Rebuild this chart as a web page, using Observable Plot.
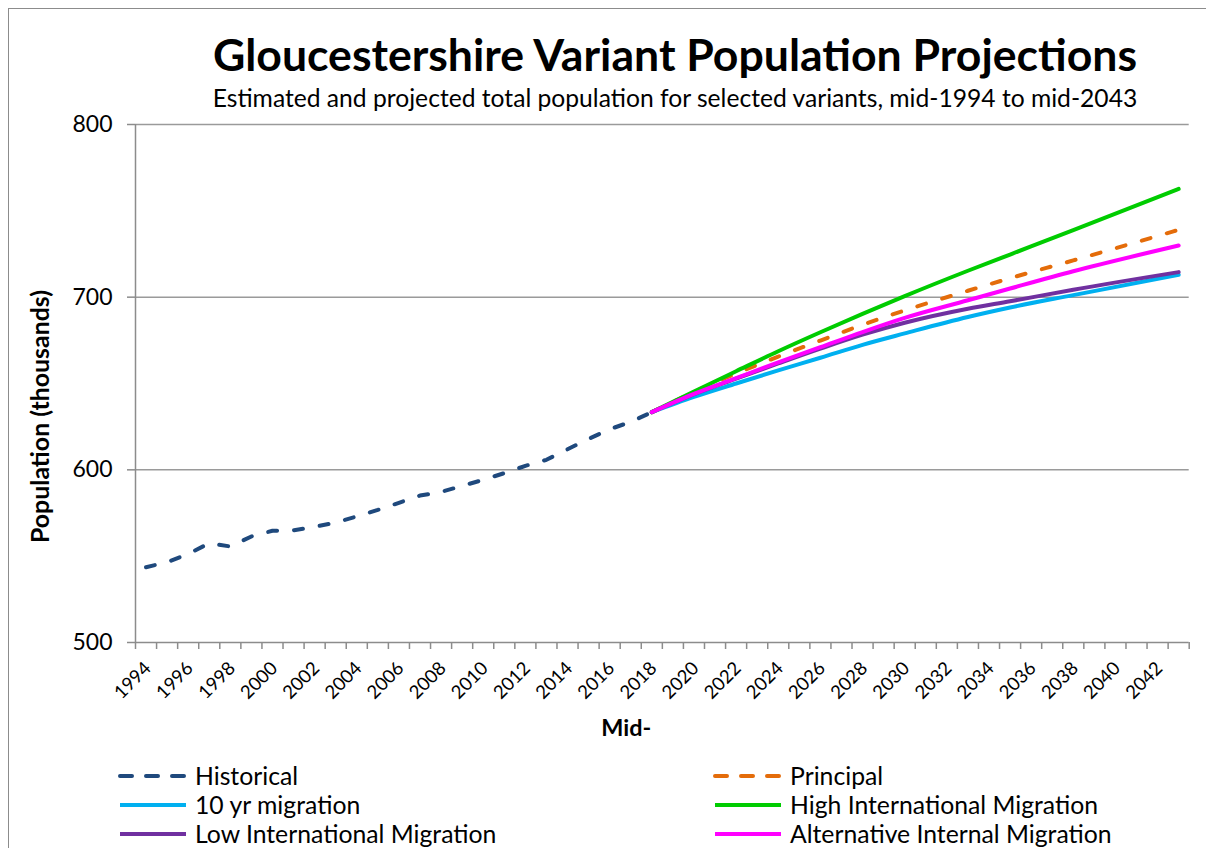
<!DOCTYPE html>
<html>
<head>
<meta charset="utf-8">
<script src="https://cdn.jsdelivr.net/npm/d3@7"></script>
<script src="https://cdn.jsdelivr.net/npm/@observablehq/plot@0.6"></script>
<style>
  html, body { margin: 0; padding: 0; background: #ffffff; }
  #wrap { position: relative; width: 1206px; height: 848px; overflow: hidden; background: #fff; }
  #frame { position: absolute; left: 8px; top: 8px; width: 1400px; height: 1000px;
           border-left: 1.5px solid #8c8c8c; border-top: 1.5px solid #8c8c8c; }
  #wrap svg { display: block; position: relative; overflow: visible; }
</style>
</head>
<body>
<div id="wrap">
  <div id="frame"></div>
  <div id="head"></div>
  <div id="chart"></div>
  <div id="legend"></div>
</div>
<script>
// ---------- data ----------
const titleText = "Gloucestershire Variant Population Projections";
const subtitleText = "Estimated and projected total population for selected variants, mid-1994 to mid-2043";
const yTitleText = "Population (thousands)";
const xTitleText = "Mid-";

const histYears = [1994,1995,1996,1997,1998,1999,2000,2001,2002,2003,2004,2005,2006,2007,2008,2009,2010,2011,2012,2013,2014,2015,2016,2017,2018];
const histValues = [543.6,546.5,551.3,557.5,555.6,561.4,564.7,565.0,567.0,569.5,573.0,576.8,580.9,585.1,587.2,590.7,594.2,598.1,602.3,605.8,611.9,617.9,623.5,627.8,633.4];

const projYears   = [2018,2020,2022,2024,2026,2028,2030,2033,2035,2038,2043];
const principal   = [633.4,645.0,655.8,665.6,674.9,684.0,692.3,703.7,711.0,721.3,739.0];
const tenYear     = [633.4,642.2,650.0,657.6,664.9,672.4,679.0,688.5,694.0,701.2,713.0];
const highIntl    = [633.4,645.4,657.1,668.7,679.7,690.3,700.6,715.3,724.7,738.8,762.7];
const lowIntl     = [633.4,643.8,652.8,661.6,670.2,678.3,685.2,693.3,697.6,704.3,714.5];
const altInternal = [633.4,644.0,653.1,662.2,671.0,679.8,688.0,698.2,705.0,715.0,729.9];

const seriesNames  = ["Historical","Principal","10 yr migration","High International Migration","Low International Migration","Alternative Internal Migration"];
const seriesColors = ["#1F497D","#E46C0A","#00B0F0","#00CC00","#7030A0","#FF00FF"];
const seriesDashed = [true,true,false,false,false,false];

const yTicks = [500,600,700,800];
const yGrid = [600,700,800];
const xTickLabels = [1994,1996,1998,2000,2002,2004,2006,2008,2010,2012,2014,2016,2018,2020,2022,2024,2026,2028,2030,2032,2034,2036,2038,2040,2042];
const xDomain = [1993.5, 2043.5];

// ---------- helpers ----------
const FONT = "Lato, 'Open Sans', sans-serif";
const cvs = document.createElement("canvas").getContext("2d");
function fit(text, weight, target) {
  cvs.font = `${weight} 100px Lato`;
  return 100 * target / cvs.measureText(text).width;
}
const fsTitle = fit(titleText, "bold", 926);
const fsSub = fit(subtitleText, "normal", 926);
const fsY = fit("800", "normal", 40);
const fsX = fit("1994", "normal", 43);
const fsYTitle = fit(yTitleText, "bold", 253);
const fsXTitle = fit(xTitleText, "bold", 50);
const fsLeg = fit("Low International Migration", "normal", 302);

// ---------- tables ----------
const histData = histYears.map((year, i) => ({year, value: histValues[i], series: seriesNames[0]}));
const projArrays = [principal, tenYear, highIntl, lowIntl, altInternal];
const projData = projArrays.map((arr, k) => projYears.map((year, i) => ({year, value: arr[i], series: seriesNames[k + 1]})));
const boundaries = d3.range(xDomain[0], xDomain[1] + 0.01, 1);

// ---------- header ----------
const NS = "http://www.w3.org/2000/svg";
const head = d3.select("#head").append("svg").attr("xmlns", NS)
  .attr("width", 1206).attr("height", 114).style("font-family", FONT);
head.append("text").attr("x", 675).attr("y", 71).attr("text-anchor", "middle")
  .attr("font-weight", "bold").attr("font-size", fsTitle).attr("fill", "#000").text(titleText);
head.append("text").attr("x", 675).attr("y", 107).attr("text-anchor", "middle")
  .attr("font-size", fsSub).attr("fill", "#000").text(subtitleText);

// ---------- chart ----------
const lineMarks = [
  Plot.line(histData, {x: "year", y: "value", stroke: seriesColors[0], strokeWidth: 4,
    strokeDasharray: "9,17", strokeLinecap: "round", strokeLinejoin: "round"})
];
projData.forEach((d, k) => {
  lineMarks.push(Plot.line(d, {x: "year", y: "value", curve: "monotone-x",
    stroke: seriesColors[k + 1], strokeWidth: 4,
    strokeDasharray: seriesDashed[k + 1] ? "9,17" : null,
    strokeLinecap: "round", strokeLinejoin: "round"}));
});

const chart = Plot.plot({
  width: 1206, height: 646,
  marginTop: 10, marginLeft: 135, marginRight: 17.3, marginBottom: 118,
  style: {fontFamily: FONT, background: "transparent", overflow: "visible", color: "#000"},
  x: {domain: xDomain},
  y: {domain: [500, 800]},
  marks: [
    Plot.ruleY(yGrid, {stroke: "#9a9a9a", strokeWidth: 1.5}),
    Plot.axisY({ticks: yTicks, tickSize: 8, tickPadding: 15, fontSize: fsY,
      tickFormat: d => String(d), stroke: "#8c8c8c", strokeWidth: 1.5, label: null}),
    Plot.axisX({ticks: boundaries, tickSize: 7, tickFormat: () => "",
      stroke: "#8c8c8c", strokeWidth: 1.5, label: null}),
    Plot.ruleY([500], {stroke: "#8c8c8c", strokeWidth: 1.5}),
    Plot.ruleX([xDomain[0]], {stroke: "#8c8c8c", strokeWidth: 1.5}),
    Plot.text(xTickLabels, {x: d => d, text: d => String(d), frameAnchor: "bottom",
      rotate: -45, textAnchor: "end", dx: 6, dy: 27, fontSize: fsX, fill: "#000"}),
    Plot.text([yTitleText], {frameAnchor: "left", textAnchor: "middle", rotate: -90,
      dx: -94.5, dy: 33, fontSize: fsYTitle, fontWeight: "bold", fill: "#000"}),
    Plot.text([xTitleText], {frameAnchor: "bottom", textAnchor: "middle",
      dx: -36, dy: 93, fontSize: fsXTitle, fontWeight: "bold", fill: "#000"}),
    ...lineMarks
  ]
});
document.getElementById("chart").appendChild(chart);

// ---------- legend ----------
const leg = d3.select("#legend").append("svg").attr("xmlns", NS)
  .attr("width", 1206).attr("height", 88).style("font-family", FONT);
const legPos = [[118, 16], [713, 16], [118, 45], [713, 45], [118, 74], [713, 74]];
seriesNames.forEach((name, i) => {
  const [x, y] = legPos[i];
  leg.append("line").attr("x1", x + 2).attr("x2", x + 68).attr("y1", y).attr("y2", y)
    .attr("stroke", seriesColors[i]).attr("stroke-width", 4)
    .attr("stroke-linecap", seriesDashed[i] ? "round" : "butt")
    .attr("stroke-dasharray", seriesDashed[i] ? "12,14" : null);
  leg.append("text").attr("x", x + 77).attr("y", y + fsLeg * 0.36)
    .attr("font-size", fsLeg).attr("fill", "#000").text(name);
});
</script>
</body>
</html>
